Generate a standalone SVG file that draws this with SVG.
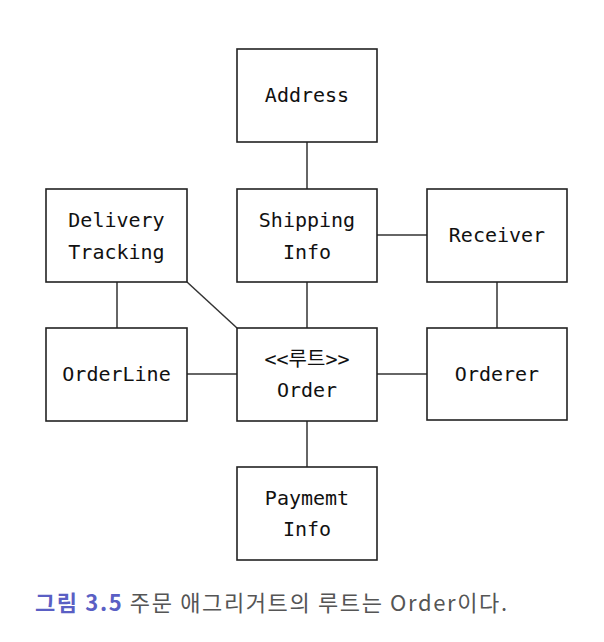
<svg xmlns="http://www.w3.org/2000/svg" width="604" height="642" viewBox="0 0 604 642">
<style>
.box{fill:#fff;stroke:#222;stroke-width:1.6}
.lbl{font-family:"DejaVu Sans Mono","Liberation Mono","Noto Sans CJK KR",monospace;font-size:20px;fill:#111;text-anchor:middle;dominant-baseline:central}
.conn line{stroke:#333;stroke-width:1.5}
.cap{font-family:"Noto Sans CJK KR","Noto Sans",sans-serif;font-size:22px}
</style>
<rect width="604" height="642" fill="#fff"/>
<g class="conn" id="connectors">
<line x1="307" y1="142" x2="307" y2="189"/>
<line x1="377" y1="235" x2="427" y2="235"/>
<line x1="307" y1="282" x2="307" y2="328"/>
<line x1="117" y1="282" x2="117" y2="328"/>
<line x1="187" y1="282" x2="237" y2="328"/>
<line x1="187" y1="374" x2="237" y2="374"/>
<line x1="377" y1="374" x2="427" y2="374"/>
<line x1="497" y1="282" x2="497" y2="328"/>
<line x1="307" y1="421" x2="307" y2="467"/>
</g>
<g id="address"><rect class="box" x="237" y="49" width="140" height="93"/><text class="lbl" x="307" y="95">Address</text></g>
<g id="delivery"><rect class="box" x="46" y="189" width="141" height="93"/><text class="lbl" x="116.5" y="220">Delivery</text><text class="lbl" x="116.5" y="252">Tracking</text></g>
<g id="shipping"><rect class="box" x="237" y="189" width="140" height="93"/><text class="lbl" x="307" y="220">Shipping</text><text class="lbl" x="307" y="252">Info</text></g>
<g id="receiver"><rect class="box" x="427" y="189" width="140" height="93"/><text class="lbl" x="497" y="235">Receiver</text></g>
<g id="orderline"><rect class="box" x="46" y="328" width="141" height="93"/><text class="lbl" x="116.5" y="374">OrderLine</text></g>
<g id="order"><rect class="box" x="237" y="328" width="140" height="93"/><text class="lbl" x="307" y="359">&lt;&lt;루트&gt;&gt;</text><text class="lbl" x="307" y="390">Order</text></g>
<g id="orderer"><rect class="box" x="427" y="328" width="140" height="92"/><text class="lbl" x="497" y="374">Orderer</text></g>
<g id="payment"><rect class="box" x="237" y="467" width="140" height="93"/><text class="lbl" x="307" y="498">Paymemt</text><text class="lbl" x="307" y="529">Info</text></g>
<text class="cap" x="35" y="611" textLength="472" lengthAdjust="spacing"><tspan fill="#5a5fc4" font-weight="bold">그림 3.5</tspan><tspan fill="#555"> 주문 애그리거트의 루트는 Order이다.</tspan></text>
</svg>
